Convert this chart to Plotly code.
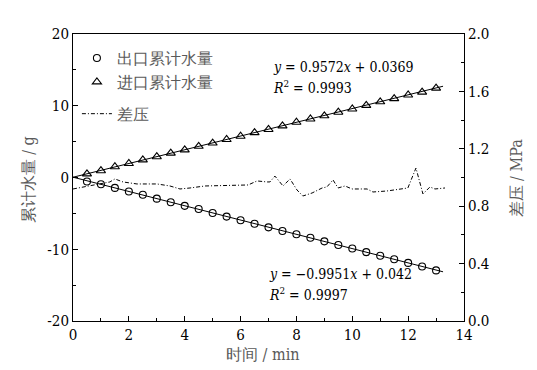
import plotly.graph_objects as go

# ---- data ----
time_pts = [0.5, 1.0, 1.5, 2.0, 2.5, 3.0, 3.5, 4.0, 4.5, 5.0, 5.5, 6.0, 6.5,
            7.0, 7.5, 8.0, 8.5, 9.0, 9.5, 10.0, 10.5, 11.0, 11.5, 12.0, 12.5, 13.0]
outlet_water = [-0.55, -0.95, -1.45, -1.95, -2.40, -2.95, -3.45, -3.95, -4.40, -4.95,
                -5.45, -5.95, -6.45, -6.95, -7.45, -7.90, -8.40, -8.90, -9.40, -9.90,
                -10.40, -10.90, -11.40, -11.90, -12.40, -12.95]
inlet_water = [0.50, 0.95, 1.50, 1.95, 2.45, 2.90, 3.40, 3.85, 4.35, 4.80,
               5.30, 5.75, 6.25, 6.70, 7.20, 7.70, 8.15, 8.60, 9.10, 9.55,
               10.05, 10.55, 11.00, 11.50, 11.90, 12.45]

dp_time = [0.0, 0.5, 1.32, 1.50, 1.79, 2.29, 3.01, 3.47, 3.83, 4.19, 4.44, 4.73, 6.27,
           6.59, 6.95, 7.05, 7.23, 7.52, 7.77, 8.02, 8.23, 8.56, 8.92, 9.09, 9.31,
           9.49, 9.74, 9.99, 10.53, 10.74, 11.24, 11.71, 11.99, 12.28, 12.53, 12.78,
           12.96, 13.32]
dp_mpa = [0.92, 0.94, 0.969, 0.990, 0.969, 0.955, 0.955, 0.941, 0.920, 0.927, 0.934, 0.941,
          0.948, 0.976, 0.969, 0.969, 1.010, 0.941, 0.990, 0.913, 0.871, 0.892, 0.927,
          0.934, 0.983, 0.927, 0.941, 0.920, 0.920, 0.899, 0.906, 0.920, 0.927, 1.066,
          0.885, 0.934, 0.920, 0.927]

# regression results (from the chart labels)
fit_in = dict(slope=0.9572, intercept=0.0369, r2="0.9993")
fit_out = dict(slope=-0.9951, intercept=0.042, r2="0.9997")
fit_range = [0.0, 13.25]

x_ticks = [0, 2, 4, 6, 8, 10, 12, 14]
y_ticks = [-20, -10, 0, 10, 20]
y_ticklabels = ["-20", "-10", "0", "10", "20"]
y2_ticks = [0.0, 0.4, 0.8, 1.2, 1.6, 2.0]

x_title = "时间 / min"
y_title = "累计水量 / g"
y2_title = "差压 / MPa"

SERIF = "DejaVu Serif Condensed, DejaVu Serif"
TXT = "#5a5a5a"

fig = go.Figure()

# fit lines
for f in (fit_out, fit_in):
    fig.add_trace(go.Scatter(
        x=fit_range, y=[f["slope"] * v + f["intercept"] for v in fit_range],
        mode="lines", line=dict(color="black", width=1), showlegend=False,
        hoverinfo="skip"))

fig.add_trace(go.Scatter(
    x=time_pts, y=outlet_water, mode="markers", name="出口累计水量", legendgroup="a",
    marker=dict(symbol="circle-open", size=7, color="black", line=dict(width=1.1))))
fig.add_trace(go.Scatter(
    x=time_pts, y=inlet_water, mode="markers", name="进口累计水量", legendgroup="a",
    marker=dict(symbol="triangle-up-open", size=8, color="black", line=dict(width=1.1))))
fig.add_trace(go.Scatter(
    x=dp_time, y=dp_mpa, mode="lines", name="差压", yaxis="y2", legendgroup="b",
    line=dict(color="black", width=1, dash="4px,2px,1px,2px")))

ann_font = dict(family=SERIF, size=14, color="black")
fig.add_annotation(x=7.1, y=15.4, xref="x", yref="y", xanchor="left", showarrow=False,
                   text="<i>y</i> = 0.9572<i>x</i> + 0.0369", font=ann_font)
fig.add_annotation(x=7.1, y=12.6, xref="x", yref="y", xanchor="left", showarrow=False,
                   text="<i>R</i><sup>2</sup> = " + fit_in["r2"], font=ann_font)
fig.add_annotation(x=6.95, y=-13.4, xref="x", yref="y", xanchor="left", showarrow=False,
                   text="<i>y</i> = −0.9951<i>x</i> + 0.042", font=ann_font)
fig.add_annotation(x=6.95, y=-16.3, xref="x", yref="y", xanchor="left", showarrow=False,
                   text="<i>R</i><sup>2</sup> = " + fit_out["r2"], font=ann_font)

# axis titles
title_font = dict(family=SERIF, size=16, color=TXT)
fig.add_annotation(x=0.486, y=-0.115, xref="paper", yref="paper", showarrow=False,
                   text=x_title, font=title_font, xanchor="center", yanchor="middle")
fig.add_annotation(x=-0.115, y=0.49, xref="paper", yref="paper", showarrow=False,
                   text=y_title, font=title_font, textangle=-90, xanchor="center", yanchor="middle")
fig.add_annotation(x=1.1355, y=0.50, xref="paper", yref="paper", showarrow=False,
                   text=y2_title, font=title_font, textangle=-90, xanchor="center", yanchor="middle")

axis_common = dict(showline=True, linecolor="black", linewidth=1, ticks="inside",
                   ticklen=5, tickcolor="black", showgrid=False, zeroline=False,
                   tickfont=dict(family=SERIF, size=15, color="black"))

fig.update_layout(
    width=537, height=370,
    margin=dict(l=65, r=81, t=26, b=57),
    paper_bgcolor="white", plot_bgcolor="white",
    font=dict(family=SERIF, size=16, color="black"),
    xaxis=dict(range=[0, 14], tickvals=x_ticks, mirror=True,
               minor=dict(ticks="inside", ticklen=3, tickcolor="black", dtick=1, tick0=0),
               **axis_common),
    yaxis=dict(range=[-20, 20], tickvals=y_ticks, ticktext=y_ticklabels,
               minor=dict(ticks="inside", ticklen=3, tickcolor="black", dtick=5, tick0=0),
               **axis_common),
    yaxis2=dict(range=[0, 2.0], tickvals=y2_ticks, tickformat=".1f", overlaying="y", side="right",
                minor=dict(ticks="inside", ticklen=3, tickcolor="black", dtick=0.2, tick0=0),
                **axis_common),
    legend=dict(x=0.01, y=0.975, xanchor="left", yanchor="top", bgcolor="rgba(0,0,0,0)",
                font=dict(family=SERIF, size=16, color=TXT), tracegroupgap=8,
                itemwidth=30),
    showlegend=True,
)

fig.write_html("out.html")
